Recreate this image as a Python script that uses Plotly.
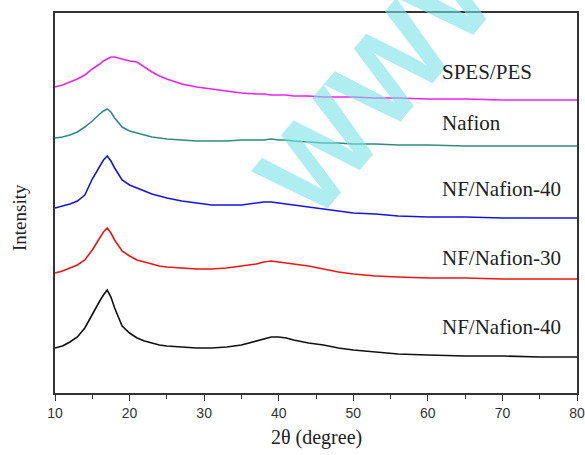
import plotly.graph_objects as go

# 2-theta sampling positions (degree)
two_theta = [10, 11, 12, 13, 14, 15, 16, 16.5, 17, 17.5, 18, 19, 20, 21, 22, 23, 24, 25,
             27, 29, 31, 33, 35, 37, 38, 39, 40, 41, 42, 44, 46, 48, 50, 53, 56, 60,
             65, 70, 75, 80]

# Stacked intensities (a.u., offset for display)
spes_pes = [306, 308, 311, 314, 318, 324, 329, 332, 334, 336, 336, 334, 332, 331, 326, 321,
            317, 314, 309, 306, 304, 302, 300, 299, 299, 298, 298, 298, 297, 297, 296, 296,
            296, 295, 295, 294, 294, 293, 293, 293]
nafion = [255, 256, 258, 261, 266, 272, 279, 282, 284, 281, 275, 266, 262, 260, 258, 256,
          255, 254, 253, 252, 252, 252, 253, 253, 253, 254, 253, 253, 252, 251, 250, 250,
          249, 249, 248, 248, 247, 247, 247, 247]
nf_nafion_40_top = [185, 187, 189, 192, 198, 214, 227, 233, 237, 232, 225, 213, 208, 205,
                    202, 199, 197, 195, 192, 190, 188, 188, 188, 190, 191, 191, 190, 189,
                    188, 186, 184, 182, 180, 179, 177, 176, 176, 175, 175, 175]
nf_nafion_30 = [120, 122, 125, 128, 133, 143, 155, 161, 165, 160, 153, 142, 137, 133, 131,
                129, 127, 126, 125, 124, 124, 125, 127, 129, 131, 132, 131, 130, 129, 127,
                124, 121, 119, 117, 116, 115, 115, 114, 114, 114]
nf_nafion_40_bot = [45, 47, 51, 56, 65, 79, 92, 98, 103, 96, 85, 67, 60, 55, 52, 50, 48, 47,
                    46, 45, 45, 46, 48, 52, 54, 56, 56, 55, 53, 50, 48, 45, 43, 41, 39, 38,
                    37, 37, 36, 36]

series_names = ["SPES/PES", "Nafion", "NF/Nafion-40", "NF/Nafion-30", "NF/Nafion-40"]
series_values = [spes_pes, nafion, nf_nafion_40_top, nf_nafion_30, nf_nafion_40_bot]
series_colors = ["#ee22ee", "#2f8c80", "#1515e0", "#f01515", "#111111"]
label_y = [321, 270, 204, 135, 66]
label_x = 61.6

x_ticks = [10, 20, 30, 40, 50, 60, 70, 80]

fig = go.Figure()
for name, vals, col in zip(series_names, series_values, series_colors):
    fig.add_trace(go.Scatter(x=two_theta, y=vals, mode="lines", name=name,
                             line=dict(color=col, width=1.6), showlegend=False))

annotations = []
# watermark (behind labels)
annotations.append(dict(x=0.66, y=0.885, xref="paper", yref="paper", text="<b>WWW.</b>",
                        showarrow=False, textangle=-50, xanchor="center", yanchor="middle",
                        font=dict(family="Liberation Sans", size=120, color="rgba(120,225,230,0.6)")))

for name, ly in zip(series_names, label_y):
    annotations.append(dict(x=label_x, y=ly, xref="x", yref="y", text=name,
                            showarrow=False, xanchor="left", yanchor="middle",
                            font=dict(family="Liberation Serif", size=21, color="#222222")))

annotations.append(dict(x=0.5, y=-0.116, xref="paper", yref="paper", text="2θ (degree)",
                        showarrow=False, xanchor="center", yanchor="middle",
                        font=dict(family="Liberation Serif", size=20, color="#222222")))
annotations.append(dict(x=-0.069, y=0.463, xref="paper", yref="paper", text="Intensity",
                        showarrow=False, textangle=-90, xanchor="center", yanchor="middle",
                        font=dict(family="Liberation Serif", size=19, color="#222222")))

fig.update_layout(
    width=585, height=455,
    margin=dict(l=55, r=8, t=13, b=62, autoexpand=False),
    paper_bgcolor="white", plot_bgcolor="white",
    annotations=annotations,
    xaxis=dict(range=[10, 80], tickvals=x_ticks, ticks="outside", ticklen=6, tickwidth=1.3,
               tickcolor="#333333", showline=True, linecolor="#333333", linewidth=1.5,
               mirror=True, showgrid=False, zeroline=False, automargin=False,
               tickfont=dict(family="Liberation Sans", size=14, color="#333333"),
               minor=dict(dtick=5, tick0=15, ticks="outside", ticklen=4, tickwidth=1.2,
                          tickcolor="#333333", showgrid=False)),
    yaxis=dict(range=[0, 380], showticklabels=False, ticks="", showline=True,
               linecolor="#333333", linewidth=1.5, mirror=True, showgrid=False,
               zeroline=False, automargin=False),
)

fig.write_html("out.html", config={"displayModeBar": False},
               post_script="document.body.style.margin='0';document.body.style.overflow='hidden';")
